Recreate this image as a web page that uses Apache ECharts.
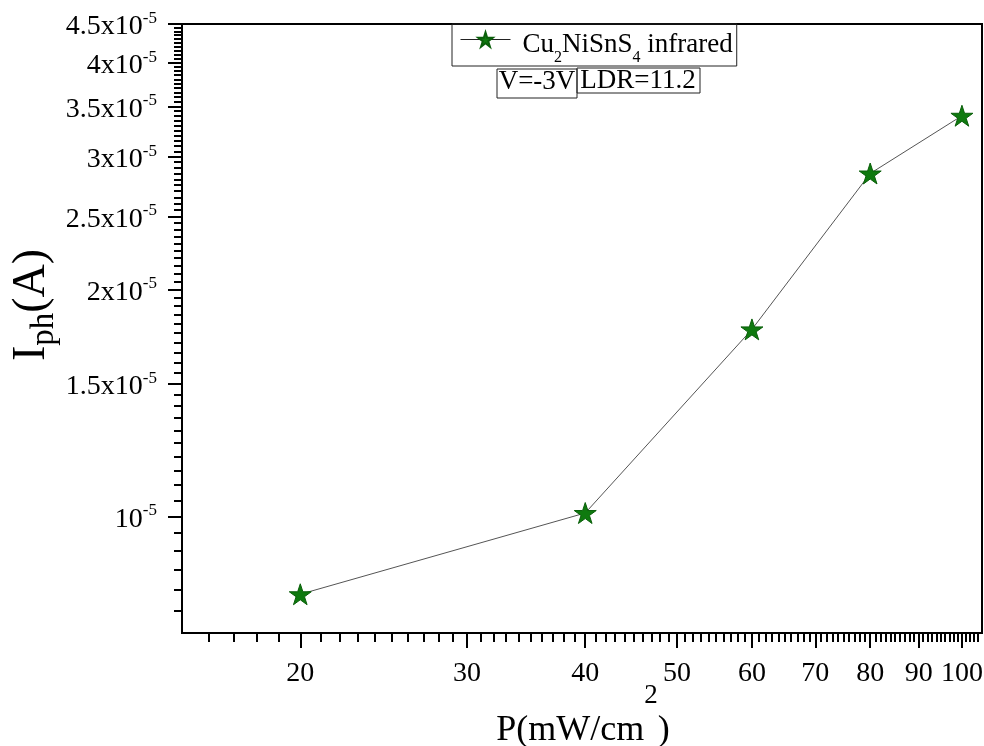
<!DOCTYPE html>
<html>
<head>
<meta charset="utf-8">
<script src="https://cdn.jsdelivr.net/npm/echarts@6/dist/echarts.min.js"></script>
<style>
  html, body { margin: 0; padding: 0; background: #fff; }
  #photo_chart { width: 984px; height: 746px; }
</style>
</head>
<body>
<div id="photo_chart"></div>
<script>
// light intensity (mW/cm2) and photocurrent (A)
const power = [20, 40, 60, 80, 100];
const current = [7.88e-6, 1.01e-5, 1.77e-5, 2.85e-5, 3.4e-5];
const xTickLabels = [20, 30, 40, 50, 60, 70, 80, 90, 100];
const yTickLabels = [1e-5, 1.5e-5, 2e-5, 2.5e-5, 3e-5, 3.5e-5, 4e-5, 4.5e-5];

// minor ticks: every 1 mW/cm2 on x, every 0.5e-6 A on y
const xMinor = [];
for (let k = 16; k <= 104; k++) {
  if (!(k % 10 === 0 && k >= 20)) xMinor.push(k);
}
const yMinor = [];
for (let k = 15; k <= 89; k++) {
  if (!(k % 10 === 0 && k >= 20)) yMinor.push(k * 5e-7);
}

const FONT = 'Liberation Serif';
const starPath = 'path://M100 0L122.45 69.1L195.1 69.1L136.3 111.8L158.8 180.9L100 138.2L41.2 180.9L63.7 111.8L4.9 69.1L77.55 69.1Z';

const myChart = echarts.init(document.getElementById('photo_chart'));

const baseX = {
  type: 'log',
  min: 15,
  max: 105,
  position: 'bottom',
  splitLine: { show: false },
  minorTick: { show: false }
};
const baseY = {
  type: 'log',
  min: 7e-6,
  max: 4.5e-5,
  position: 'left',
  splitLine: { show: false },
  minorTick: { show: false }
};

const option = {
  backgroundColor: '#fff',
  animation: false,
  grid: {
    left: 182, right: 2, top: 24, bottom: 113,
    outerBoundsMode: 'none',
    containLabel: false,
    show: true, borderColor: '#000', borderWidth: 2
  },
  legend: {
    left: 452,
    top: 24,
    padding: [2, 4, 0, 8],
    borderColor: '#222',
    borderWidth: 1,
    itemWidth: 50,
    itemHeight: 18,
    lineStyle: { color: '#222', width: 1 },
    data: ['Cu2NiSnS4 infrared'],
    formatter: () => '{f|Cu}{s|2}{m|NiSnS}{s|4}{m| infrared}',
    textStyle: {
      fontFamily: FONT,
      color: '#000',
      rich: {
        f: { fontFamily: FONT, fontSize: 27, lineHeight: 27, verticalAlign: 'top', padding: [5, 0, 0, 7], color: '#000' },
        m: { fontFamily: FONT, fontSize: 27, lineHeight: 27, verticalAlign: 'top', padding: [5, 0, 0, 0], color: '#000' },
        s: { fontFamily: FONT, fontSize: 16, lineHeight: 16, verticalAlign: 'top', padding: [24, 0, 0, 0], color: '#000' }
      }
    }
  },
  xAxis: [
    Object.assign({}, baseX, {
      axisLine: { show: true, lineStyle: { color: '#000', width: 2 } },
      axisTick: { show: true, inside: false, length: 15, customValues: xTickLabels, lineStyle: { color: '#000', width: 2 } },
      axisLabel: {
        customValues: xTickLabels,
        margin: 27,
        fontFamily: FONT,
        fontSize: 28,
        color: '#000',
        formatter: v => String(Math.round(v))
      }
    }),
    Object.assign({}, baseX, {
      axisLine: { show: false },
      axisTick: { show: true, inside: false, length: 9, customValues: xMinor, lineStyle: { color: '#000', width: 2 } },
      axisLabel: { show: false }
    })
  ],
  yAxis: [
    Object.assign({}, baseY, {
      axisLine: { show: true, lineStyle: { color: '#000', width: 2 } },
      axisTick: { show: true, inside: false, length: 14, customValues: yTickLabels, lineStyle: { color: '#000', width: 2 } },
      axisLabel: {
        customValues: yTickLabels,
        margin: 25,
        formatter: v => {
          const m = Math.round(v * 1e6) / 10;
          return m === 1 ? '{b|10}{s|-5}' : '{b|' + m + 'x10}{s|-5}';
        },
        rich: {
          b: { fontFamily: FONT, fontSize: 28, lineHeight: 28, verticalAlign: 'top', padding: [3, 0, 0, 0], color: '#000' },
          s: { fontFamily: FONT, fontSize: 17, lineHeight: 17, verticalAlign: 'top', color: '#000' }
        }
      }
    }),
    Object.assign({}, baseY, {
      axisLine: { show: false },
      axisTick: { show: true, inside: false, length: 8, customValues: yMinor, lineStyle: { color: '#000', width: 2 } },
      axisLabel: { show: false }
    })
  ],
  graphic: [
    {
      // y axis title
      type: 'text',
      x: 32,
      y: 305,
      rotation: Math.PI / 2,
      style: {
        text: '{m|I}{s|ph}{m|(A)}',
        align: 'center',
        verticalAlign: 'middle',
        rich: {
          m: { fontFamily: FONT, fontSize: 46, lineHeight: 46, verticalAlign: 'top', fill: '#000' },
          s: { fontFamily: FONT, fontSize: 33, lineHeight: 33, verticalAlign: 'top', padding: [19, 0, 0, 0], fill: '#000' }
        }
      }
    },
    {
      // x axis title
      type: 'text',
      x: 583,
      y: 700,
      style: {
        text: '{m|P(mW/cm}{s|2}{m|)}',
        align: 'center',
        verticalAlign: 'middle',
        rich: {
          m: { fontFamily: FONT, fontSize: 36, lineHeight: 36, verticalAlign: 'top', padding: [31, 0, 0, 0], fill: '#000' },
          s: { fontFamily: FONT, fontSize: 27, lineHeight: 27, verticalAlign: 'top', fill: '#000' }
        }
      }
    },
    {
      type: 'rect',
      shape: { x: 497, y: 69, width: 80, height: 29 },
      style: { fill: 'none', stroke: '#222', lineWidth: 1 }
    },
    {
      type: 'text',
      x: 537,
      y: 82,
      style: { text: 'V=-3V', font: '27px "Liberation Serif"', fill: '#000', align: 'center', verticalAlign: 'middle' }
    },
    {
      type: 'rect',
      shape: { x: 577, y: 68, width: 123, height: 25 },
      style: { fill: 'none', stroke: '#222', lineWidth: 1 }
    },
    {
      type: 'text',
      x: 638,
      y: 81,
      style: { text: 'LDR=11.2', font: '27px "Liberation Serif"', fill: '#000', align: 'center', verticalAlign: 'middle' }
    }
  ],
  series: [
    {
      name: 'Cu2NiSnS4 infrared',
      type: 'line',
      xAxisIndex: 0,
      yAxisIndex: 0,
      data: power.map((p, i) => [p, current[i]]),
      symbol: starPath,
      symbolSize: 22,
      symbolKeepAspect: true,
      lineStyle: { color: '#555', width: 1 },
      itemStyle: { color: '#0f7a0f', borderColor: '#0a5f0a', borderWidth: 1 }
    }
  ]
};
myChart.setOption(option);
</script>
</body>
</html>
